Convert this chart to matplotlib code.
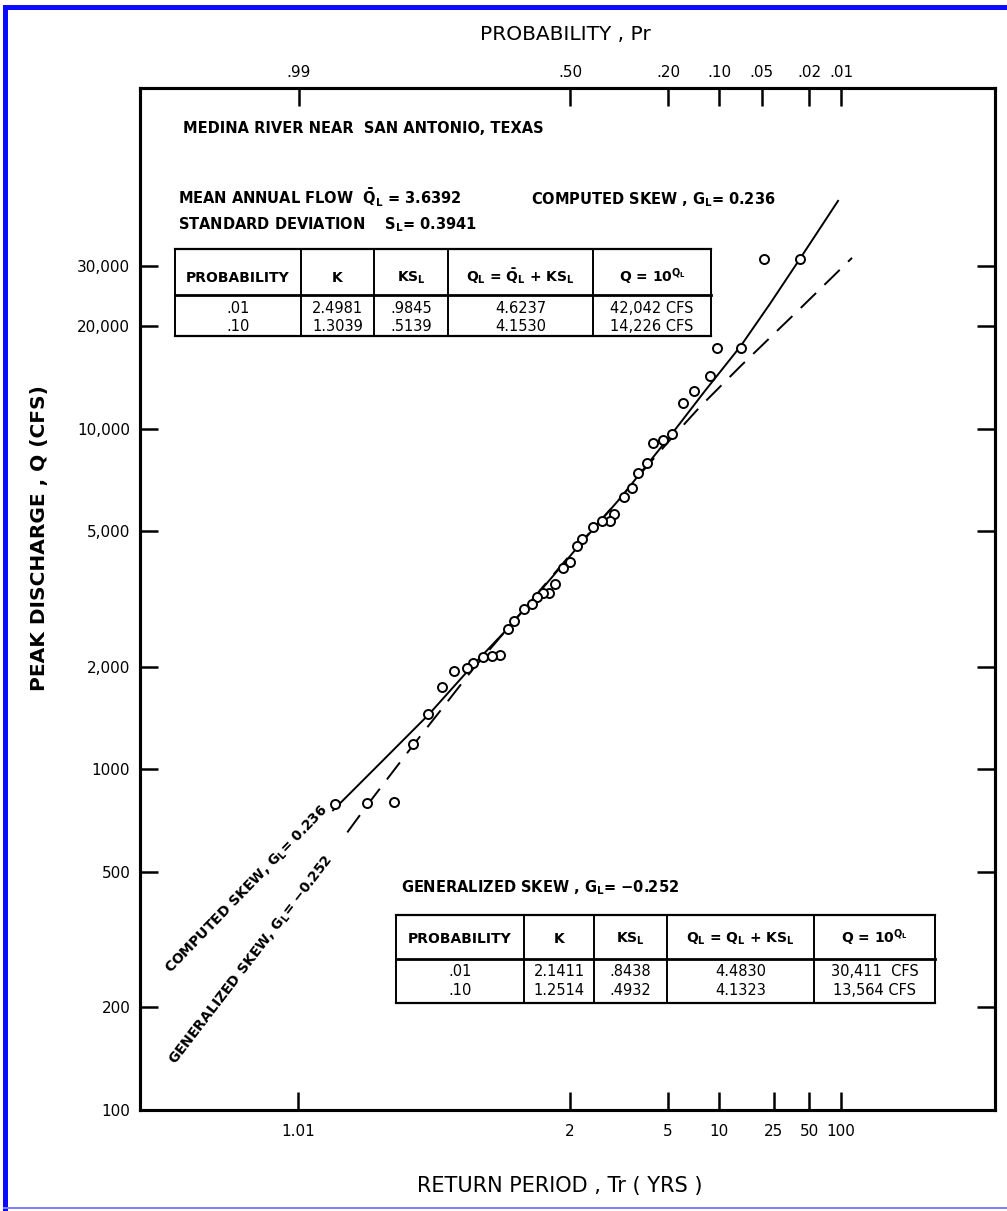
import math
import numpy as np
import matplotlib
matplotlib.use("Agg")
import matplotlib.pyplot as plt
from matplotlib.lines import Line2D
from matplotlib.patches import Rectangle
from matplotlib.ticker import NullLocator

plt.rcParams['font.family'] = ['DejaVu Sans']
plt.rcParams['mathtext.fontset'] = 'custom'
plt.rcParams['mathtext.rm'] = 'DejaVu Sans:bold'
plt.rcParams['mathtext.default'] = 'rm'

# ------------------------------ DATA ------------------------------
# observed annual peaks: exceedance probability and discharge (cfs)
obs_pr = [0.024, 0.048, 0.071, 0.104, 0.115, 0.144, 0.166, 0.191, 0.212, 0.238,
          0.254, 0.280, 0.297, 0.321, 0.353, 0.366, 0.392, 0.422, 0.459, 0.476,
          0.500, 0.524, 0.551, 0.571, 0.592, 0.611, 0.628, 0.654, 0.685, 0.703,
          0.726, 0.749, 0.773, 0.798, 0.812, 0.840, 0.864, 0.889, 0.911, 0.934,
          0.959, 0.978]
obs_q = [31500, 31500, 17300, 17300, 14300, 12900, 11900, 9670, 9290, 9100,
         7950, 7430, 6710, 6320, 5600, 5370, 5370, 5130, 4730, 4510,
         4070, 3910, 3510, 3300, 3290, 3200, 3050, 2950, 2720, 2590,
         2160, 2150, 2140, 2050, 1980, 1950, 1740, 1450, 1190, 800,
         795, 790]

# computed skew curve (solid)
comp_pr = [0.979, 0.9485, 0.887, 0.798, 0.706, 0.602, 0.466, 0.334, 0.1905, 0.123,
           0.0711, 0.043, 0.0242, 0.0107]
comp_q = [758, 1041, 1450, 2018, 2574, 3327, 4570, 6233, 9670, 12925,
          17520, 23260, 31520, 46630]

# generalized skew curve (dashed)
gen_pr = [0.972, 0.9585, 0.911, 0.868, 0.798, 0.706, 0.602, 0.466, 0.334, 0.260,
          0.1905, 0.132, 0.0711, 0.0242, 0.00774]
gen_q = [653, 790, 1176, 1479, 1965, 2574, 3349, 4601, 6233, 7632,
         9410, 11600, 15300, 22490, 31730]

y_ticks = [100, 200, 500, 1000, 2000, 5000, 10000, 20000, 30000]
y_labels = ["100", "200", "500", "1000", "2,000", "5,000", "10,000", "20,000", "30,000"]
tr_ticks = [1.01, 2, 5, 10, 25, 50, 100]
tr_labels = ["1.01", "2", "5", "10", "25", "50", "100"]
pr_ticks = [0.99, 0.50, 0.20, 0.10, 0.05, 0.02, 0.01]
pr_labels = [".99", ".50", ".20", ".10", ".05", ".02", ".01"]

comp_head = ["PROBABILITY", "K", r"KS$_L$", r"Q$_L$ = $\bar{Q}_L$ + KS$_L$", r"Q = 10$^{Q_L}$"]
comp_rows = [[".01", "2.4981", ".9845", "4.6237", "42,042 CFS"],
             [".10", "1.3039", ".5139", "4.1530", "14,226 CFS"]]
gen_head = ["PROBABILITY", "K", r"KS$_L$", r"Q$_L$ = Q$_L$ + KS$_L$", r"Q = 10$^{Q_L}$"]
gen_rows = [[".01", "2.1411", ".8438", "4.4830", "30,411  CFS"],
            [".10", "1.2514", ".4932", "4.1323", "13,564 CFS"]]


# ------------------------------ probability scale ------------------------------
erfc = np.vectorize(math.erfc, otypes=[float])


def norm_cdf(z):
    return 0.5 * erfc(-np.asarray(z, dtype=float) / math.sqrt(2))


def norm_ppf(q):
    q = np.clip(np.asarray(q, dtype=float), 1e-15, 1 - 1e-15)
    lo = np.full(q.shape, -9.0)
    hi = np.full(q.shape, 9.0)
    for _ in range(55):
        mid = 0.5 * (lo + hi)
        below = norm_cdf(mid) < q
        lo = np.where(below, mid, lo)
        hi = np.where(below, hi, mid)
    return 0.5 * (lo + hi)


def tr_to_z(tr):
    tr = np.clip(np.asarray(tr, dtype=float), 1.0 + 1e-13, None)
    return norm_ppf(1.0 - 1.0 / tr)


def z_to_tr(z):
    p = 0.5 * erfc(np.asarray(z, dtype=float) / math.sqrt(2))
    return 1.0 / np.clip(p, 1e-15, None)


# ------------------------------ FIGURE ------------------------------
W, H = 1007, 1211


def fx(x):
    return x / W


def fy(y):
    return 1 - y / H


def ftext(x, y, s, **kw):
    fig.text(fx(x), fy(y), s, **kw)


def fline(xs, ys, lw):
    fig.add_artist(Line2D([fx(v) for v in xs], [fy(v) for v in ys],
                          transform=fig.transFigure, color='black', lw=lw))


def draw_table(cols, rows_y, head, rows, head_base, row_base):
    top, mid, bot = rows_y
    fline([cols[0], cols[-1]], [top, top], 1.6)
    fline([cols[0], cols[-1]], [mid, mid], 2.0)
    fline([cols[0], cols[-1]], [bot, bot], 1.6)
    for x in cols:
        fline([x, x], [top, bot], 1.4)
    for i in range(len(head)):
        cx = (cols[i] + cols[i + 1]) / 2
        ftext(cx, head_base, head[i], ha='center', va='baseline', size=10, weight='bold')
        ftext(cx, row_base[0], rows[0][i], ha='center', va='baseline', size=10.5)
        ftext(cx, row_base[1], rows[1][i], ha='center', va='baseline', size=10.5)


fig = plt.figure(figsize=(W / 100, H / 100), dpi=100)
ax = fig.add_axes([140 / W, 1 - 1110 / H, 855 / W, 1022 / H])

ax.set_xscale('function', functions=(tr_to_z, z_to_tr))
ax.set_yscale('log')
xlim = (float(z_to_tr(-3.69)), float(z_to_tr(3.648)))
ax.set_xlim(xlim)
ax.set_ylim(100, 100000)

ax.plot(1 / np.array(comp_pr), comp_q, color='black', lw=1.4, zorder=2)
ax.plot(1 / np.array(gen_pr), gen_q, color='black', lw=1.4, dashes=(11, 6), zorder=2)
ax.plot(1 / np.array(obs_pr), obs_q, 'o', ms=6.5, mfc='white', mec='black', mew=1.4, zorder=3)

ax.set_yticks(y_ticks)
ax.set_yticklabels(y_labels, fontsize=11)
ax.yaxis.set_minor_locator(NullLocator())
ax.set_xticks(tr_ticks)
ax.set_xticklabels(tr_labels, fontsize=11)
ax.xaxis.set_minor_locator(NullLocator())
ax.tick_params(axis='y', direction='in', length=13, width=1.8, right=True, pad=7)
ax.tick_params(axis='x', direction='in', length=13, width=1.8, pad=10)

ax2 = ax.twiny()
ax2.set_xscale('function', functions=(tr_to_z, z_to_tr))
ax2.set_xlim(xlim)
ax2.set_xticks(1 / np.array(pr_ticks))
ax2.set_xticklabels(pr_labels, fontsize=11)
ax2.xaxis.set_minor_locator(NullLocator())
ax2.tick_params(axis='x', direction='in', length=13, width=1.8, pad=6)

for a in (ax, ax2):
    for sp in a.spines.values():
        sp.set_linewidth(2.2)

# axis titles
ftext(565, 40, "PROBABILITY , Pr", ha='center', va='baseline', size=14.5)
ftext(560, 1192, "RETURN PERIOD , Tr ( YRS )", ha='center', va='baseline', size=15)
ftext(40, 538, "PEAK DISCHARGE , Q (CFS)", ha='center', va='center', rotation=90,
      size=14.5, weight='bold')

# annotations
ftext(183, 133, "MEDINA RIVER NEAR  SAN ANTONIO, TEXAS", va='baseline', size=10.5, weight='bold')
ftext(178, 204, r"MEAN ANNUAL FLOW  $\bar{Q}_L$ = 3.6392", va='baseline', size=10.5, weight='bold')
ftext(531, 204, r"COMPUTED SKEW , G$_L$= 0.236", va='baseline', size=10.5, weight='bold')
ftext(178, 229, r"STANDARD DEVIATION    S$_L$= 0.3941", va='baseline', size=10.5, weight='bold')
ftext(401, 892, r"GENERALIZED SKEW , G$_L$= $-$0.252", va='baseline', size=10.5, weight='bold')

ftext(247, 890, r"COMPUTED SKEW, G$_L$= 0.236", ha='center', va='center', rotation=46,
      rotation_mode='anchor', size=10, weight='bold')
ftext(251, 960, r"GENERALIZED SKEW, G$_L$= $-$0.252", ha='center', va='center', rotation=52.5,
      rotation_mode='anchor', size=10, weight='bold')

draw_table([175, 301, 374, 448, 593, 711], (249, 295, 336), comp_head, comp_rows, 282, (313, 331))
draw_table([396, 524, 594, 667, 814, 935], (915, 959, 1003), gen_head, gen_rows, 943, (976, 995))

# blue scan frame
fig.add_artist(Rectangle((fx(3), 0), 5 / W, fy(5), transform=fig.transFigure,
                         color='#0a0aff', lw=0))
fig.add_artist(Rectangle((fx(3), fy(10)), 1 - fx(3), 5 / H, transform=fig.transFigure,
                         color='#0a0aff', lw=0))
fig.add_artist(Rectangle((fx(3), fy(1209)), 1 - fx(3), 2 / H, transform=fig.transFigure,
                         color='#8080ff', lw=0))

fig.savefig("out.png", dpi=100)
